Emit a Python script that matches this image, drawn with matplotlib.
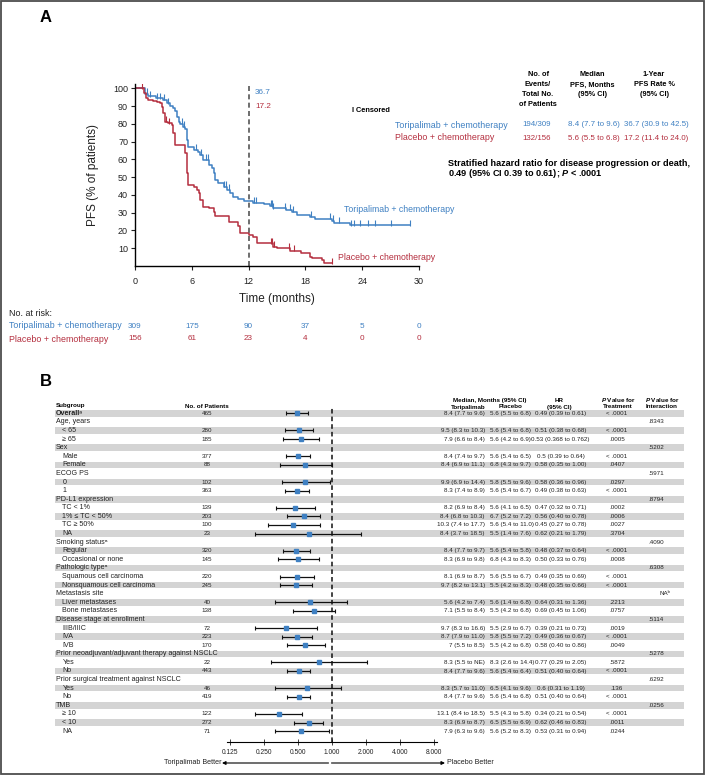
import matplotlib
matplotlib.use('Agg')
import matplotlib.pyplot as plt
import numpy as np
from matplotlib.patches import Rectangle

FONT = 'Liberation Sans'
plt.rcParams['font.family'] = [FONT, 'DejaVu Sans']
plt.rcParams['mathtext.fontset'] = 'custom'
plt.rcParams['mathtext.rm'] = FONT
plt.rcParams['mathtext.it'] = FONT + ':italic:bold'
plt.rcParams['mathtext.bf'] = FONT + ':bold'

BLUE = '#3f80c2'
RED = '#b42e3e'
INK = '#222222'

# ---- panel A data ----
tori_t = [0, 1.1, 1.4, 2.2, 3.0, 3.4, 3.7, 4.05, 4.2, 4.4, 4.6, 4.8, 5.1, 5.3, 5.5, 5.65,
          6.2, 6.7, 6.9, 7.2, 7.8, 8.1, 8.3, 8.5, 8.8, 9.35, 9.7, 10.05, 10.4, 10.9, 11.5,
          12.5, 13.6, 14.3, 14.6, 16.0, 16.6, 17.1, 18.5, 19.0, 20.8, 21.0, 22.7]
tori_s = [100, 97, 95.5, 94.4, 93.4, 91.6, 90, 89, 87, 84, 81.2, 80, 78.4, 77, 71, 67,
          65.3, 64.2, 62.5, 59.7, 57, 55, 52.2, 48.4, 46.6, 44.7, 42.8, 41, 39, 37.8, 36.7,
          35.6, 34.8, 34, 32.5, 31.6, 30.4, 28.7, 27.8, 26.5, 25.5, 24.3, 22.9]
tori_end = 29.1
tori_cens = [1.3, 1.6, 2.3, 2.6, 3.1, 3.5, 5.0, 5.2, 6.4, 7.0, 7.5, 7.7, 9.4, 9.6, 9.9,
             12.6, 12.8, 14.4, 14.5, 14.6, 15.8, 16.4, 16.7, 18.6, 20.6, 20.9, 21.5, 22.8,
             23.1, 23.8, 24.6, 25.4, 27.0, 29.1]

plac_t = [0, 0.95, 1.2, 1.4, 1.9, 2.3, 2.6, 2.8, 3.0, 3.2, 3.5, 3.9, 4.05, 4.2, 5.3, 5.5,
          5.65, 6.2, 6.5, 6.8, 6.9, 7.2, 7.8, 8.3, 8.5, 9.9, 10.9, 11.1, 12.0, 12.5, 12.9,
          14.6, 15.0, 16.4, 17.5, 18.5, 18.7, 19.8, 19.97]
plac_s = [100, 97.2, 94.4, 93.4, 93, 92.5, 91.6, 89.7, 85.9, 81.2, 80.3, 79.4, 74.7, 68.1,
          63.4, 52.2, 45.6, 44.7, 42.8, 41, 37.1, 33.4, 32.5, 30.6, 28.1, 24.9, 22.5, 18.4,
          17.2, 16.1, 12.8, 10.9, 10, 8.6, 7.5, 5.3, 4.3, 3.4, 1.5]
plac_end = 20.8
plac_cens = [0.7, 3.3, 3.6, 14.4, 14.5, 14.7, 16.3, 16.8, 20.8]

risk_times = [0, 6, 12, 18, 24, 30]
tori_risk = [309, 175, 90, 37, 5, 0]
plac_risk = [156, 61, 23, 4, 0, 0]

# ---- panel B data ----
labels = ['Overall\u1d43', 'Age, years', '< 65', '\u2265 65', 'Sex', 'Male', 'Female',
          'ECOG PS', '0', '1', 'PD-L1 expression', 'TC < 1%', '1% \u2264 TC < 50%',
          'TC \u2265 50%', 'NA', 'Smoking status\u1d43', 'Regular', 'Occasional or none',
          'Pathologic type\u1d43', 'Squamous cell carcinoma', 'Nonsquamous cell carcinoma',
          'Metastasis site', 'Liver metastases', 'Bone metastases',
          'Disease stage at enrollment', 'IIIB/IIIC', 'IVA', 'IVB',
          'Prior neoadjuvant/adjuvant therapy against NSCLC', 'Yes', 'No',
          'Prior surgical treatment against NSCLC', 'Yes', 'No', 'TMB',
          '\u2265 10', '< 10', 'NA']
indent = [0, 0, 1, 1, 0, 1, 1, 0, 1, 1, 0, 1, 1, 1, 1, 0, 1, 1, 0, 1, 1, 0, 1, 1, 0, 1, 1, 1,
          0, 1, 1, 0, 1, 1, 0, 1, 1, 1]
n_pat = ['465', '', '280', '185', '', '377', '88', '', '102', '363', '', '139', '203', '100',
         '23', '', '320', '145', '', '220', '245', '', '40', '138', '', '72', '223', '170',
         '', '22', '443', '', '46', '419', '', '122', '272', '71']
tori_med = ['8.4 (7.7 to 9.6)', '', '9.5 (8.3 to 10.3)', '7.9 (6.6 to 8.4)', '',
            '8.4 (7.4 to 9.7)', '8.4 (6.9 to 11.1)', '', '9.9 (6.9 to 14.4)', '8.3 (7.4 to 8.9)',
            '', '8.2 (6.9 to 8.4)', '8.4 (6.8 to 10.3)', '10.3 (7.4 to 17.7)',
            '8.4 (3.7 to 18.5)', '', '8.4 (7.7 to 9.7)', '8.3 (6.9 to 9.8)', '',
            '8.1 (6.9 to 8.7)', '9.7 (8.2 to 13.1)', '', '5.6 (4.2 to 7.4)', '7.1 (5.5 to 8.4)',
            '', '9.7 (8.3 to 16.6)', '8.7 (7.9 to 11.0)', '7 (5.5 to 8.5)', '',
            '8.3 (5.5 to NE)', '8.4 (7.7 to 9.6)', '', '8.3 (5.7 to 11.0)', '8.4 (7.7 to 9.6)',
            '', '13.1 (8.4 to 18.5)', '8.3 (6.9 to 8.7)', '7.9 (6.3 to 9.6)']
plac_med = ['5.6 (5.5 to 6.8)', '', '5.6 (5.4 to 6.8)', '5.6 (4.2 to 6.9)', '',
            '5.6 (5.4 to 6.5)', '6.8 (4.3 to 9.7)', '', '5.8 (5.5 to 9.6)', '5.6 (5.4 to 6.7)',
            '', '5.6 (4.1 to 6.5)', '6.7 (5.2 to 7.2)', '5.6 (5.4 to 11.0)', '5.5 (1.4 to 7.6)',
            '', '5.6 (5.4 to 5.8)', '6.8 (4.3 to 8.3)', '', '5.6 (5.5 to 6.7)',
            '5.5 (4.2 to 8.3)', '', '5.6 (1.4 to 6.8)', '5.5 (4.2 to 6.8)', '',
            '5.5 (2.9 to 6.7)', '5.8 (5.5 to 7.2)', '5.5 (4.2 to 6.8)', '', '8.3 (2.6 to 14.4)',
            '5.6 (5.4 to 6.4)', '', '6.5 (4.1 to 9.6)', '5.6 (5.4 to 6.8)', '',
            '5.5 (4.3 to 5.8)', '6.5 (5.5 to 6.9)', '5.6 (5.2 to 8.3)']
hr_txt = ['0.49 (0.39 to 0.61)', '', '0.51 (0.38 to 0.68)', '0.53 (0.368 to 0.762)', '',
          '0.5 (0.39 to 0.64)', '0.58 (0.35 to 1.00)', '', '0.58 (0.36 to 0.96)',
          '0.49 (0.38 to 0.63)', '', '0.47 (0.32 to 0.71)', '0.56 (0.40 to 0.78)',
          '0.45 (0.27 to 0.78)', '0.62 (0.21 to 1.79)', '', '0.48 (0.37 to 0.64)',
          '0.50 (0.33 to 0.76)', '', '0.49 (0.35 to 0.69)', '0.48 (0.35 to 0.66)', '',
          '0.64 (0.31 to 1.36)', '0.69 (0.45 to 1.06)', '', '0.39 (0.21 to 0.73)',
          '0.49 (0.36 to 0.67)', '0.58 (0.40 to 0.86)', '', '0.77 (0.29 to 2.05)',
          '0.51 (0.40 to 0.64)', '', '0.6 (0.31 to 1.19)', '0.51 (0.40 to 0.64)', '',
          '0.34 (0.21 to 0.54)', '0.62 (0.46 to 0.83)', '0.53 (0.31 to 0.94)']
nan = np.nan
hr = [0.49, nan, 0.51, 0.53, nan, 0.5, 0.58, nan, 0.58, 0.49, nan, 0.47, 0.56, 0.45, 0.62,
      nan, 0.48, 0.50, nan, 0.49, 0.48, nan, 0.64, 0.69, nan, 0.39, 0.49, 0.58, nan, 0.77,
      0.51, nan, 0.6, 0.51, nan, 0.34, 0.62, 0.53]
hr_lo = [0.39, nan, 0.38, 0.368, nan, 0.39, 0.35, nan, 0.36, 0.38, nan, 0.32, 0.40, 0.27,
         0.21, nan, 0.37, 0.33, nan, 0.35, 0.35, nan, 0.31, 0.45, nan, 0.21, 0.36, 0.40, nan,
         0.29, 0.40, nan, 0.31, 0.40, nan, 0.21, 0.46, 0.31]
hr_hi = [0.61, nan, 0.68, 0.762, nan, 0.64, 1.00, nan, 0.96, 0.63, nan, 0.71, 0.78, 0.78,
         1.79, nan, 0.64, 0.76, nan, 0.69, 0.66, nan, 1.36, 1.06, nan, 0.73, 0.67, 0.86, nan,
         2.05, 0.64, nan, 1.19, 0.64, nan, 0.54, 0.83, 0.94]
p_treat = ['< .0001', '', '< .0001', '.0005', '', '< .0001', '.0407', '', '.0297', '< .0001',
           '', '.0002', '.0006', '.0027', '.3704', '', '< .0001', '.0008', '', '< .0001',
           '< .0001', '', '.2213', '.0757', '', '.0019', '< .0001', '.0049', '', '.5872',
           '< .0001', '', '.136', '< .0001', '', '< .0001', '.0011', '.0244']
p_inter = ['', '.8343', '', '', '.5202', '', '', '.5971', '', '', '.8794', '', '', '', '',
           '.4090', '', '', '.6308', '', '', 'NA\u1d47', '', '', '.5114', '', '', '', '.5278',
           '', '', '.6292', '', '', '.0256', '', '', '']
hr_ticks = [0.125, 0.25, 0.5, 1, 2, 4, 8]

# ---------------------------------------------------------------
fig = plt.figure(figsize=(7.07, 7.76), dpi=100)
W, H = 707, 776

bg = fig.add_axes([0, 0, 1, 1])
bg.set_xlim(0, W)
bg.set_ylim(H, 0)
bg.axis('off')
bg.add_patch(Rectangle((0.8, 0.8), 703.5, 773.5, fill=False, ec='#4d4d4d', lw=1.3))


def T(x, y, s, **kw):
    kw.setdefault('va', 'center')
    bg.text(x, y, s, **kw)


# ---- Panel A ----
T(40, 18, 'A', fontsize=12, fontweight='bold')

ax = fig.add_axes([135 / W, 1 - 266 / H, 284 / W, 182 / H])


def step_val(times, surv, t):
    i = np.searchsorted(times, t, side='right') - 1
    return np.array(surv)[i]


for tt, ss, end, cens, col in [(tori_t, tori_s, tori_end, tori_cens, BLUE),
                               (plac_t, plac_s, plac_end, plac_cens, RED)]:
    ax.step(tt + [end], ss + [ss[-1]], where='post', color=col, lw=1.1)
    ax.plot(cens, step_val(tt, ss, cens) + 1.5, ls='none', marker='|', color=col,
            ms=3.8, mew=0.8)

ax.axvline(12, color='#555555', ls=(0, (3, 2)), lw=1.2)
ax.set_xlim(0, 30)
ax.set_ylim(0, 102.4)
ax.set_xticks(risk_times)
ax.set_yticks(range(10, 101, 10))
ax.tick_params(labelsize=6.5, length=3, width=0.8, colors=INK, pad=2)
ax.tick_params(axis='x', pad=5)
for s in ['top', 'right']:
    ax.spines[s].set_visible(False)
for s in ['left', 'bottom']:
    ax.spines[s].set_linewidth(1)
ax.set_xlabel('Time (months)', fontsize=8.5, labelpad=5, color=INK)
ax.set_ylabel('PFS (% of patients)', fontsize=8.5, labelpad=10, color=INK)
ax.patch.set_alpha(0)

T(255, 92, '36.7', fontsize=5.9, color=BLUE)
T(255, 107, '17.2', fontsize=5.9, color=RED)
T(352, 110, 'I Censored', fontsize=5.3, fontweight='bold')

fs_name, fs_num, fs_head = 6.4, 5.7, 5.3
for y, s in zip([75, 85, 95, 104], ['No. of', 'Events/', 'Total No.', 'of Patients']):
    T(538, y, s, fontsize=fs_head, fontweight='bold', ha='center')
for y, s in zip([75, 85, 95], ['Median', 'PFS, Months', '(95% CI)']):
    T(592, y, s, fontsize=fs_head, fontweight='bold', ha='center')
for y, s in zip([75, 85, 95], ['1-Year', 'PFS Rate %', '(95% CI)']):
    T(654, y, s, fontsize=fs_head, fontweight='bold', ha='center')

T(395, 125, 'Toripalimab + chemotherapy', fontsize=fs_name, color=BLUE)
T(537, 125, '194/309', fontsize=fs_num, color=BLUE, ha='center')
T(594, 125, '8.4 (7.7 to 9.6)', fontsize=fs_num, color=BLUE, ha='center')
T(656, 125, '36.7 (30.9 to 42.5)', fontsize=fs_num, color=BLUE, ha='center')
T(395, 138, 'Placebo + chemotherapy', fontsize=fs_name, color=RED)
T(537, 138, '132/156', fontsize=fs_num, color=RED, ha='center')
T(594, 138, '5.6 (5.5 to 6.8)', fontsize=fs_num, color=RED, ha='center')
T(656, 138, '17.2 (11.4 to 24.0)', fontsize=fs_num, color=RED, ha='center')

T(448, 163, 'Stratified hazard ratio for disease progression or death,', fontsize=6.6,
  fontweight='bold')
T(448, 173, '0.49 (95% CI 0.39 to 0.61); $P$ < .0001', fontsize=6.6, fontweight='bold')

T(344, 210, 'Toripalimab + chemotherapy', fontsize=6.3, color=BLUE)
T(338, 258, 'Placebo + chemotherapy', fontsize=6.3, color=RED)

T(9, 313, 'No. at risk:', fontsize=fs_name, color=INK)
T(9, 326, 'Toripalimab + chemotherapy', fontsize=fs_name, color=BLUE)
T(9, 339, 'Placebo + chemotherapy', fontsize=fs_name, color=RED)
for t, a, b in zip(risk_times, tori_risk, plac_risk):
    x = 135 + t * 284 / 30
    T(x, 326, str(a), fontsize=5.9, color=BLUE, ha='center')
    T(x, 339, str(b), fontsize=5.9, color=RED, ha='center')

# ---- Panel B ----
T(40, 382, 'B', fontsize=12, fontweight='bold')

y0, pitch = 413.3, 8.59
fs_b = 5.1
fs_n = 4.5
fs_h = 4.5
for i in range(len(labels)):
    y = y0 + i * pitch
    if i % 2 == 0:
        bg.add_patch(Rectangle((55, y - 3.3), 629, 6.6, color='#d4d4d4', lw=0, zorder=0))
    T(55.5 + 7 * indent[i], y, labels[i], fontsize=fs_b, color=INK,
      fontweight='bold' if i == 0 else 'normal')
    T(207, y, n_pat[i], fontsize=fs_n, color=INK, ha='center')
    T(485, y, tori_med[i], fontsize=fs_n, color=INK, ha='right')
    T(489.5, y, plac_med[i], fontsize=fs_n, color=INK, ha='left')
    T(560.5, y, hr_txt[i], fontsize=fs_n, color=INK, ha='center')
    T(617, y, p_treat[i], fontsize=fs_n, color=INK, ha='center')
    T(648 if p_inter[i] != 'NA\u1d47' else 660, y, p_inter[i], fontsize=fs_n,
      color=INK, ha='left')

T(55.5, 406, 'Subgroup', fontsize=fs_h, fontweight='bold')
T(207, 406, 'No. of Patients', fontsize=fs_h, fontweight='bold', ha='center')
T(490, 400.3, 'Median, Months (95% CI)', fontsize=fs_h, fontweight='bold', ha='center')
T(468, 407, 'Toripalimab', fontsize=fs_h, fontweight='bold', ha='center')
T(511, 407, 'Placebo', fontsize=fs_h, fontweight='bold', ha='center')
T(559, 400.3, 'HR', fontsize=fs_h, fontweight='bold', ha='center')
T(559, 407, '(95% CI)', fontsize=fs_h, fontweight='bold', ha='center')
T(618, 400.3, '$P$ Value for', fontsize=fs_h, fontweight='bold', ha='center')
T(618, 407, 'Treatment', fontsize=fs_h, fontweight='bold', ha='center')
T(662, 400.3, '$P$ Value for', fontsize=fs_h, fontweight='bold', ha='center')
T(662, 407, 'Interaction', fontsize=fs_h, fontweight='bold', ha='center')

fa = fig.add_axes([227 / W, 1 - 742.3 / H, 210 / W, 335 / H])
fa.patch.set_alpha(0)
rows = np.arange(len(labels))
hr_a, lo_a, hi_a = np.array(hr), np.array(hr_lo), np.array(hr_hi)
ok = ~np.isnan(hr_a)
fa.errorbar(hr_a[ok], rows[ok], xerr=[hr_a[ok] - lo_a[ok], hi_a[ok] - hr_a[ok]], fmt='s',
            color=BLUE, ms=2.6, ecolor='#111111', elinewidth=0.9, capsize=1.6,
            capthick=0.8, zorder=3)
fa.axvline(1, color='#111111', ls=(0, (3, 2)), lw=1.1)
fa.set_xscale('log', base=2)
fa.set_xlim(0.1177, 8.5)
fa.set_ylim(38.3, -0.7)
fa.set_xticks(hr_ticks)
fa.set_xticklabels(['%.3f' % v for v in hr_ticks])
fa.minorticks_off()
fa.set_yticks([])
for s in ['top', 'right', 'left']:
    fa.spines[s].set_visible(False)
fa.spines['bottom'].set_linewidth(0.8)
fa.tick_params(axis='x', direction='inout', length=4, width=0.6, labelsize=4.8,
               pad=3, colors=INK)

arr = dict(arrowstyle='-|>', color='black', lw=0.8, mutation_scale=5, shrinkA=0, shrinkB=0)
bg.annotate('', xy=(222, 763), xytext=(328.5, 763), arrowprops=arr)
bg.annotate('', xy=(445, 763), xytext=(331.5, 763), arrowprops=arr)
T(221, 763, 'Toripalimab Better', fontsize=fs_b, ha='right', color=INK)
T(447, 763, 'Placebo Better', fontsize=fs_b, ha='left', color=INK)

fig.savefig('out.png', dpi=100)
